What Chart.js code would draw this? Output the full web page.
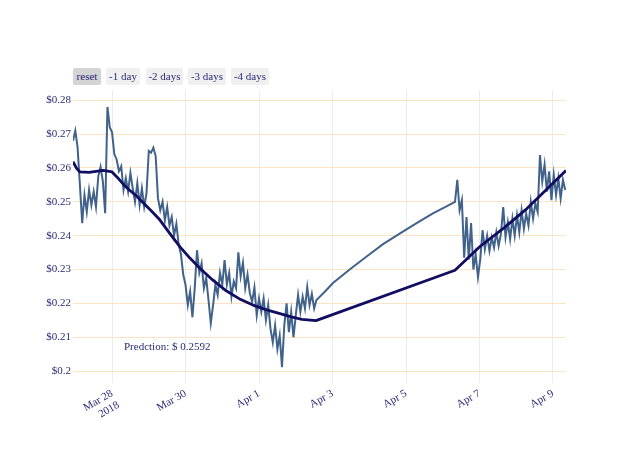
<!DOCTYPE html>
<html>
<head>
<meta charset="utf-8">
<script src="https://cdn.jsdelivr.net/npm/chart.js@4.4.0/dist/chart.umd.min.js"></script>
<style>
  body { margin: 0; background: #fff; }
  #wrap { position: relative; width: 640px; height: 457px; }
  .btn { position: absolute; top: 68px; height: 15px; padding-top: 2px; line-height: 17px; font: 11px "Liberation Serif", serif; color: #2b2a78; background: #f0f0f0; border-radius: 2px; text-align: center; }
  .btn.active { background: #d4d4d4; }
</style>
</head>
<body>
<div id="wrap">
  <canvas id="chart" width="640" height="457"></canvas>
  <div class="btn active" style="left:73px;width:28px">reset</div>
  <div class="btn" style="left:106px;width:34px">-1 day</div>
  <div class="btn" style="left:146px;width:37px">-2 days</div>
  <div class="btn" style="left:188px;width:38px">-3 days</div>
  <div class="btn" style="left:231px;width:38px">-4 days</div>
</div>
<script>
// hours are counted from Mar 28 2018 00:00
var seg1Start = -25.5;
var seg2Start = 224;
var stepHours = 1.5;

var priceSeg1 = [
  0.268, 0.271, 0.266, 0.255, 0.2437, 0.252, 0.247, 0.2535, 0.249, 0.253,
  0.2485, 0.2575, 0.2603, 0.256, 0.2466, 0.278, 0.272, 0.2705, 0.264, 0.2625,
  0.259, 0.2605, 0.2535, 0.257, 0.253, 0.2585, 0.254, 0.250, 0.2555, 0.249,
  0.254, 0.2485, 0.2525, 0.265, 0.2645, 0.266, 0.2635, 0.251, 0.2475, 0.250,
  0.2445, 0.2485, 0.243, 0.2455, 0.240, 0.2435, 0.2375, 0.2345, 0.2285, 0.2255,
  0.2195, 0.2235, 0.2159, 0.2245, 0.2357, 0.229, 0.2318, 0.2245, 0.2275, 0.221,
  0.2142, 0.2195, 0.2255, 0.2225, 0.229, 0.2255, 0.2328, 0.2255, 0.229, 0.222,
  0.2265, 0.2245, 0.2351, 0.228, 0.232, 0.2245, 0.2285, 0.223, 0.2205, 0.2247,
  0.2165, 0.2215, 0.2175, 0.2215, 0.2151, 0.2195, 0.2125, 0.2085, 0.2135, 0.2065,
  0.2105, 0.2012, 0.2135, 0.2200, 0.2115, 0.2175, 0.2100, 0.2165, 0.2225, 0.2175,
  0.2220, 0.2185, 0.2248, 0.2195, 0.2228, 0.2185, 0.2210
];

// the thin curve that bridges the missing days
var gapHours = [139.1, 144.3, 155.4, 166.5, 177.0, 188.1, 199.2, 209.6, 217.5];
var gapPrice = [0.2235, 0.2260, 0.2301, 0.2339, 0.2375, 0.2407, 0.2438, 0.2466, 0.2484];

var priceSeg2 = [
  0.2500, 0.2565, 0.2475, 0.2505, 0.2335, 0.2455, 0.2330, 0.2437, 0.2300, 0.2345,
  0.2278, 0.2330, 0.2416, 0.2360, 0.2400, 0.2355, 0.2395, 0.2365, 0.2410, 0.2370,
  0.2405, 0.2484, 0.2395, 0.2440, 0.2390, 0.2450, 0.2400, 0.2460, 0.2410, 0.2475,
  0.2420, 0.2465, 0.2430, 0.2500, 0.2450, 0.2495, 0.2470, 0.2638, 0.2560, 0.2610,
  0.2530, 0.2590, 0.2505, 0.2580, 0.2520, 0.2570, 0.2510, 0.2565, 0.2535
];

var predHours = [-25.5, -23.0, -21.0, -15.0, -5.9, 0, 3.5, 7.3, 11.5, 16.0, 21.5, 27.0, 31.3, 37.8, 44.4, 51.0, 57.5, 65.5, 74.0, 83.0, 92.0, 101.0, 109.7, 117.0, 124.0, 133.2, 224.0, 240.3, 256.0, 271.0, 296.5];
var predValues = [0.2618, 0.2598, 0.2588, 0.2587, 0.2593, 0.2588, 0.2572, 0.2552, 0.2534, 0.2517, 0.2492, 0.2467, 0.2446, 0.2406, 0.2367, 0.2333, 0.2303, 0.2270, 0.2239, 0.2214, 0.2195, 0.2181, 0.2170, 0.2160, 0.2153, 0.2149, 0.2298, 0.2368, 0.2423, 0.2480, 0.2592];

var xTickHours = [0, 48, 96, 144, 192, 240, 288];
var xTickLabels = [['Mar 28', '2018'], 'Mar 30', 'Apr 1', 'Apr 3', 'Apr 5', 'Apr 7', 'Apr 9'];
var yTicks = [0.20, 0.21, 0.22, 0.23, 0.24, 0.25, 0.26, 0.27, 0.28];

var predictionLabel = 'Predction: $ 0.2592';
var labelHour = 7.8;
var labelValue = 0.2071;

var textColor = '#2b2a78';
var font = { family: '"Liberation Serif", serif', size: 11 };

var pricePoints = [];
priceSeg1.forEach(function(v, i) { pricePoints.push({ x: seg1Start + i * stepHours, y: v }); });
gapHours.forEach(function(h, i) { pricePoints.push({ x: h, y: gapPrice[i] }); });
priceSeg2.forEach(function(v, i) { pricePoints.push({ x: seg2Start + i * stepHours, y: v }); });

var predPoints = predHours.map(function(h, i) { return { x: h, y: predValues[i] }; });

var annotation = {
  id: 'annotation',
  afterDatasetsDraw: function(chart) {
    var c = chart.ctx;
    c.save();
    c.font = '11px "Liberation Serif", serif';
    c.fillStyle = textColor;
    c.textAlign = 'left';
    c.textBaseline = 'middle';
    c.fillText(predictionLabel, chart.scales.x.getPixelForValue(labelHour), chart.scales.y.getPixelForValue(labelValue));
    c.restore();
  }
};

new Chart(document.getElementById('chart'), {
  type: 'line',
  data: {
    datasets: [{
      data: predPoints,
      borderColor: '#110d63',
      borderWidth: 2.8,
      pointRadius: 0,
      tension: 0,
      borderJoinStyle: 'round',
      fill: false,
      order: 0
    }, {
      data: pricePoints,
      borderColor: '#41628b',
      borderWidth: 2,
      pointRadius: 0,
      tension: 0,
      fill: false,
      order: 1
    }]
  },
  options: {
    responsive: false,
    animation: false,
    devicePixelRatio: 1,
    layout: { padding: { top: 90, right: 74, left: 0, bottom: 0 } },
    plugins: { legend: { display: false }, tooltip: { enabled: false } },
    scales: {
      x: {
        type: 'linear',
        min: -25.5,
        max: 296.5,
        afterBuildTicks: function(scale) {
          scale.ticks = xTickHours.map(function(h) { return { value: h }; });
        },
        afterFit: function(scale) { scale.height = 74; },
        ticks: {
          autoSkip: false,
          minRotation: 30,
          maxRotation: 30,
          padding: 4,
          color: textColor,
          font: font,
          callback: function(v) { return xTickLabels[xTickHours.indexOf(v)]; }
        },
        grid: { color: '#ececec', drawTicks: false },
        border: { display: false }
      },
      y: {
        min: 0.1965,
        max: 0.283,
        afterBuildTicks: function(scale) {
          scale.ticks = yTicks.map(function(v) { return { value: v }; });
        },
        afterFit: function(scale) { scale.width = 73; },
        ticks: {
          padding: 2,
          color: textColor,
          font: font,
          callback: function(v) { return '$' + Number(v.toFixed(2)); }
        },
        grid: { color: '#fee4c6', drawTicks: false },
        border: { display: false }
      }
    }
  },
  plugins: [annotation]
});
</script>
</body>
</html>
